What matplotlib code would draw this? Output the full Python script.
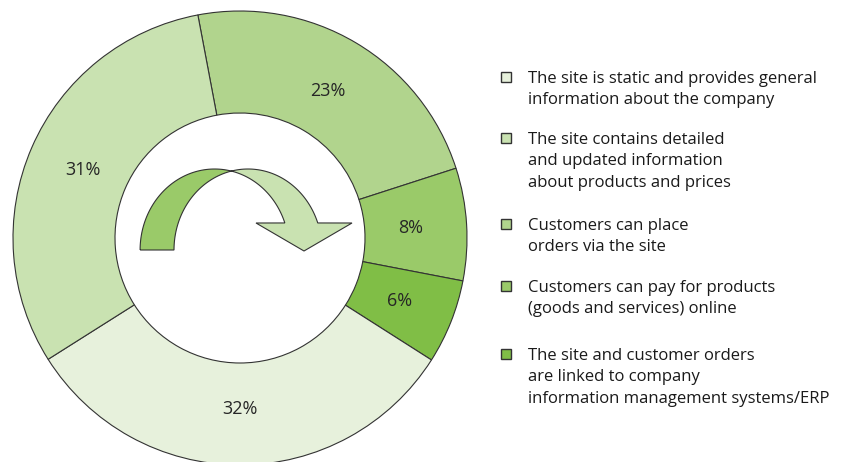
import matplotlib.pyplot as plt
from matplotlib.patches import Rectangle, PathPatch
from matplotlib.path import Path
import numpy as np

plt.rcParams['font.family'] = ['Open Sans', 'DejaVu Sans']

# slice order as drawn clockwise from the top
shares = [23, 8, 6, 32, 31]
slice_colors = ['#b1d48d', '#9aca69', '#80be46', '#e7f1dc', '#c9e2b1']

legend_labels = [
    'The site is static and provides general\ninformation about the company',
    'The site contains detailed\nand updated information\nabout products and prices',
    'Customers can place\norders via the site',
    'Customers can pay for products\n(goods and services) online',
    'The site and customer orders\nare linked to company\ninformation management systems/ERP',
]
legend_colors = ['#e7f1dc', '#c9e2b1', '#b1d48d', '#9aca69', '#80be46']

W, H = 842, 462
fig = plt.figure(figsize=(W / 100, H / 100), dpi=100)
fig.patch.set_facecolor('white')

# donut: centre at (240, 238) px, outer radius 227 px
cx, cy, R = 240, 238, 227
ax = fig.add_axes([(cx - R) / W, (H - cy - R) / H, 2 * R / W, 2 * R / H])

wedges, texts, autotexts = ax.pie(
    shares, colors=slice_colors, startangle=100.7, counterclock=False,
    radius=1, autopct=lambda p: f'{round(p)}%', pctdistance=0.755,
    wedgeprops=dict(width=1 - 125 / 227, edgecolor='#333333', linewidth=0.8),
    textprops=dict(fontsize=13, color='#262626'))
ax.set_xlim(-1, 1)
ax.set_ylim(-1, 1)
ax.set_aspect('equal')
ax.axis('off')


def ell(xc, yc, rx, ry, a0, a1, n=60):
    t = np.radians(np.linspace(a0, a1, n))
    return np.column_stack([xc + rx * np.cos(t), yc + ry * np.sin(t)])


def px(pts):
    # pixel offsets (x right, y up from donut centre) -> axes data units
    return np.asarray(pts, dtype=float) / R


# curved arrow in the hole, a twisted ribbon made of two arches
# arch A: centre (-25.4, -12), arch B: centre (8, -12)
light = np.vstack([
    ell(8, -12, 74, 81, 103.3, 19.5),
    [[112, 15], [64, -13], [16, 15]],
    ell(-25.4, -12, 74.5, 81, 19.5, 77.3),
])
ax.add_patch(PathPatch(Path(px(light), closed=False), facecolor='#c9e2b1',
                       edgecolor='#333333', linewidth=0.8, zorder=3))
dark = np.vstack([
    ell(-25.4, -12, 74.5, 81, 180, 77.3),
    ell(8, -12, 74, 81, 103.3, 180),
    [[-99.9, -12]],
])
ax.add_patch(PathPatch(Path(px(dark)), facecolor='#9aca69',
                       edgecolor='#333333', linewidth=0.8, zorder=3))

# legend drawn by hand so the square sits at the first line
entry_y = [77, 138, 224, 286, 354]
line_step = 21.5
for label, color, y in zip(legend_labels, legend_colors, entry_y):
    fig.patches.append(Rectangle((501 / W, (H - y - 5) / H), 10 / W, 10 / H,
                                 transform=fig.transFigure, facecolor=color,
                                 edgecolor='#333333', linewidth=1.0))
    for i, line in enumerate(label.split('\n')):
        fig.text(528 / W, (H - y - 5.7 - i * line_step) / H, line,
                 fontsize=12, color='#1a1a1a', va='baseline', ha='left',
                 transform=fig.transFigure)

fig.savefig('out.png', dpi=100)
